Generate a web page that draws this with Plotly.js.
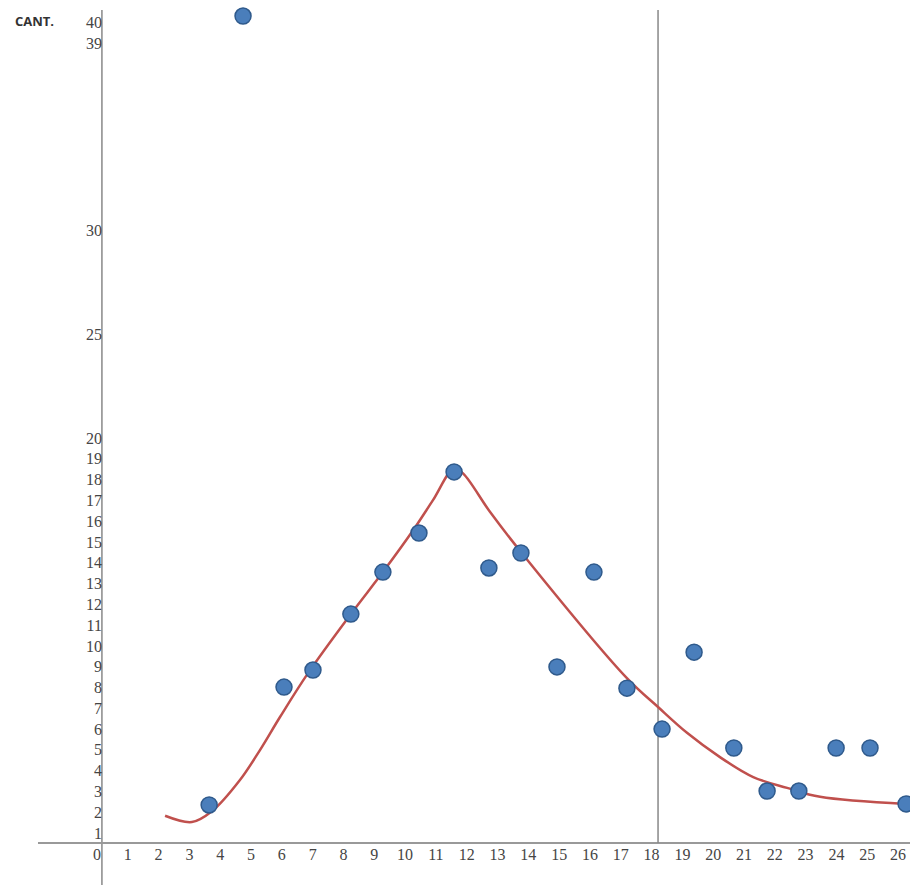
<!DOCTYPE html>
<html>
<head>
<meta charset="utf-8">
<script src="https://cdn.plot.ly/plotly-3.0.1.min.js"></script>
<style>html,body{margin:0;padding:0;background:#fff;}#chart{width:910px;height:885px;}</style>
</head>
<body>
<div id="chart"></div>
<script>
// Observed values (x in axis units, y = CANT.)
const pointX = [3.64, 4.74, 6.07, 7.01, 8.24, 9.28, 10.45, 11.59, 12.72, 13.76, 14.93, 16.13, 17.20, 18.34, 19.38, 20.67, 21.75, 22.78, 23.99, 25.09, 26.26];
const pointY = [2.35, 40.3, 8.02, 8.84, 11.53, 13.55, 15.43, 18.37, 13.75, 14.47, 8.99, 13.55, 7.97, 6.0, 9.7, 5.09, 3.02, 3.02, 5.09, 5.09, 2.4];

// Trend curve
const curveX = [2.21, 3.08, 3.73, 4.64, 5.29, 5.94, 6.85, 8.24, 9.28, 10.26, 10.90, 11.59, 11.88, 12.76, 13.76, 17.20, 18.21, 19.15, 20.22, 21.30, 22.40, 23.47, 26.26];
const curveY = [1.83, 1.53, 2.05, 3.55, 4.99, 6.58, 8.69, 11.53, 13.55, 15.56, 17.0, 18.55, 18.3, 16.44, 14.52, 8.45, 7.06, 5.82, 4.65, 3.69, 3.17, 2.74, 2.4];

const xTicks = [0,1,2,3,4,5,6,7,8,9,10,11,12,13,14,15,16,17,18,19,20,21,22,23,24,25,26];
const xTickLabels = ['0','1','2','3','4','5','6','7','8','9','10','11','12','13','14','15','16','17','18','19','20','21','22','23','24','25','26'];
const yTicks = [1,2,3,4,5,6,7,8,9,10,11,12,13,14,15,16,17,18,19,20,25,30,39,40];
const yTickLabels = ['1','2','3','4','5','6','7','8','9','10','11','12','13','14','15','16','17','18','19','20','25','30','39','40'];
const markerLineX = 18.21;
const yAxisX = 0.16;
const xAxisY = 0.52;
const yLabel = 'CANT.';

const tickFont = {family: 'Liberation Serif, DejaVu Serif, serif', size: 16, color: '#454545'};

const traces = [
  {x: curveX, y: curveY, type: 'scatter', mode: 'lines',
   line: {color: '#c0504d', width: 2.5, shape: 'spline', smoothing: 1}, hoverinfo: 'skip'},
  {x: pointX, y: pointY, type: 'scatter', mode: 'markers',
   marker: {color: '#4a7ebb', size: 16, line: {color: '#2f5a8c', width: 1.5}}, hoverinfo: 'skip'}
];

const layout = {
  width: 910, height: 885,
  margin: {l: 0, r: 0, t: 0, b: 0},
  paper_bgcolor: '#fff', plot_bgcolor: '#fff',
  showlegend: false,
  xaxis: {range: [-3.148, 26.388], showgrid: false, zeroline: false, showline: false,
          anchor: 'free', position: 0.04746, automargin: false,
          tickmode: 'array', tickvals: xTicks, ticktext: xTickLabels,
          ticks: '', ticklabelstandoff: 0, tickfont: tickFont, fixedrange: true},
  yaxis: {range: [-1.50, 41.07], showgrid: false, zeroline: false, showline: false,
          anchor: 'free', position: 0.1121, automargin: false,
          tickmode: 'array', tickvals: yTicks, ticktext: yTickLabels,
          ticks: '', ticklabelstandoff: 0, tickfont: tickFont, fixedrange: true},
  shapes: [
    {type: 'line', xref: 'x', yref: 'y', x0: yAxisX, x1: yAxisX, y0: -1.5, y1: 40.59,
     line: {color: '#888', width: 1.5}, layer: 'below'},
    {type: 'line', xref: 'x', yref: 'y', x0: -1.915, x1: 26.388, y0: xAxisY, y1: xAxisY,
     line: {color: '#999', width: 2}, layer: 'below'},
    {type: 'line', xref: 'x', yref: 'y', x0: markerLineX, x1: markerLineX, y0: xAxisY, y1: 40.59,
     line: {color: '#888', width: 1.5}, layer: 'below'}
  ],
  annotations: [
    {text: '<b>' + yLabel + '</b>', xref: 'paper', yref: 'paper', x: 34/910, y: 1 - 21/885,
     xanchor: 'center', yanchor: 'middle', showarrow: false,
     font: {family: 'Open Sans, Liberation Sans, sans-serif', size: 13, color: '#333'}}
  ]
};

Plotly.newPlot('chart', traces, layout, {displayModeBar: false, staticPlot: true});
</script>
</body>
</html>
